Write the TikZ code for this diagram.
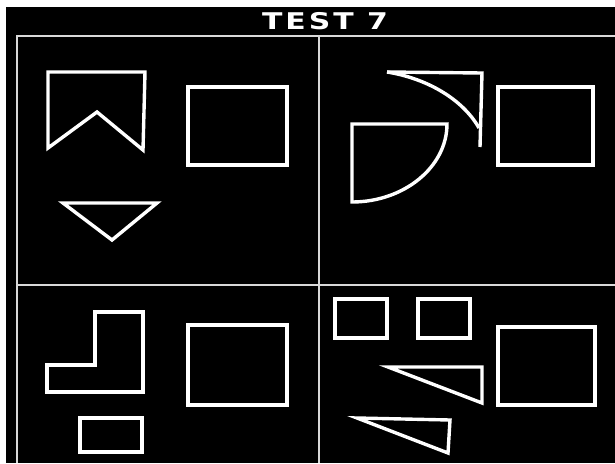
\documentclass[tikz,border=0pt]{standalone}
\usepackage{fontspec}
\newfontfamily\titlefont[LetterSpace=10]{DejaVu Sans Bold}
\begin{document}
\begin{tikzpicture}[x=1pt,y=-1pt,
  fig/.style={draw=white,line width=3.4pt,line join=miter},
  gridline/.style={draw=white!85!black,line width=2.4pt}]
\useasboundingbox (0,0) rectangle (615,463);
\fill[white] (0,0) rectangle (615,463);
\fill[black] (6,7) rectangle (615,463);
% title
\node[text=white,font=\titlefont\fontsize{23}{23}\selectfont,xscale=1.3,inner sep=0] (title) at (325,21) {TEST 7};
% grid
\draw[gridline] (17,463) -- (17,36) -- (615,36);
\draw[gridline] (319,36) -- (319,463);
\draw[gridline] (17,285) -- (615,285);
% top-left
\draw[fig] (48,72) -- (145,72) -- (143,150) -- (97,112) -- (48,148) -- cycle;
\draw[fig] (188,87) rectangle (287,165);
\draw[fig] (63,203) -- (157,203) -- (112,240) -- cycle;
% top-right
\draw[fig] (498,87) rectangle (593,165);
\draw[fig] (352,124) -- (447,124) .. controls (447,167) and (404,202) .. (352,202) -- cycle;
\draw[fig] (387,72) -- (482,73) -- (480,147);
\draw[fig] (387,72) .. controls (425,78) and (462,98) .. (479,128);
% bottom-left
\draw[fig] (95,312) -- (143,312) -- (143,392) -- (47,392) -- (47,365) -- (95,365) -- cycle;
\draw[fig] (188,325) rectangle (287,405);
\draw[fig] (80,418) rectangle (142,452);
% bottom-right
\draw[fig] (335,299) rectangle (387,338);
\draw[fig] (418,299) rectangle (470,338);
\draw[fig] (498,327) rectangle (595,405);
\draw[fig] (388,367) -- (482,367) -- (482,403) -- cycle;
\draw[fig] (357,418) -- (450,420) -- (448,453) -- cycle;
\end{tikzpicture}
\end{document}
